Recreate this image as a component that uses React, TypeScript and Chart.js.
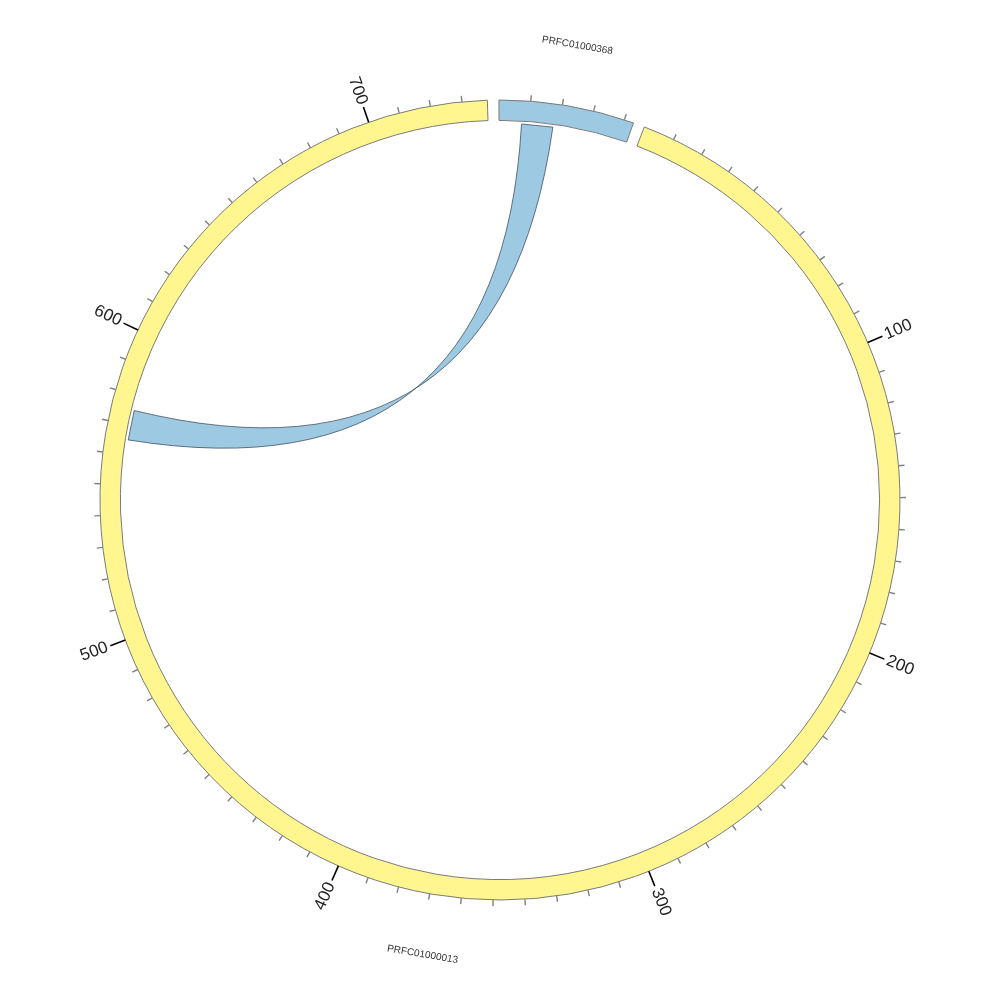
import React, { useEffect, useRef } from 'react';
import { Chart, registerables } from 'chart.js';

Chart.register(...registerables);

// ---- data ----
const sectorNames = ['PRFC01000368', 'PRFC01000013'];
const sectorLengths = [43, 738];
const sectorColors = ['#9dc9e2', '#fff68f'];
const gapLength = 3.64; // gap between sectors, in position units
const startRotation = -0.15; // degrees, where the first sector starts (0 = top)
const minorTickStep = 10;
const majorTickValues = [100, 200, 300, 400, 500, 600, 700];
const majorTickLabels = ['100', '200', '300', '400', '500', '600', '700'];
// link: [sector index, start position, end position]
const linkFrom = [0, 7.5, 18];
const linkTo = [1, 565, 575];
const linkColor = '#9dc9e2';

const circosPlugin = {
  id: 'circos',
  afterDatasetsDraw(chart: any) {
    const meta = chart.getDatasetMeta(0);
    const arcs = [meta.data[0], meta.data[2]].map((el: any) =>
      el.getProps(['x', 'y', 'startAngle', 'endAngle', 'innerRadius', 'outerRadius'], true)
    );
    const ctx: CanvasRenderingContext2D = chart.ctx;
    const cx = arcs[0].x;
    const cy = arcs[0].y;
    const R = arcs[0].outerRadius;
    const Rin = arcs[0].innerRadius;
    const angleAt = (s: number, p: number) => {
      const a = arcs[s];
      return a.startAngle + (p / sectorLengths[s]) * (a.endAngle - a.startAngle);
    };
    const pt = (ang: number, r: number) => [cx + r * Math.cos(ang), cy + r * Math.sin(ang)];

    ctx.save();
    // ---- link ribbon ----
    const rr = Rin - 3;
    const a1 = angleAt(linkFrom[0], linkFrom[1]);
    const a2 = angleAt(linkFrom[0], linkFrom[2]);
    const b1 = angleAt(linkTo[0], linkTo[1]);
    const b2 = angleAt(linkTo[0], linkTo[2]);
    const [x1, y1] = pt(a1, rr);
    const [x2, y2] = pt(a2, rr);
    const [x3, y3] = pt(b2, rr);
    const [x4, y4] = pt(b1, rr);
    ctx.beginPath();
    ctx.moveTo(x1, y1);
    ctx.lineTo(x2, y2);
    ctx.quadraticCurveTo(cx, cy, x3, y3);
    ctx.lineTo(x4, y4);
    ctx.quadraticCurveTo(cx, cy, x1, y1);
    ctx.closePath();
    ctx.fillStyle = linkColor;
    ctx.fill();
    ctx.lineWidth = 0.7;
    ctx.strokeStyle = '#2f3f4f';
    ctx.stroke();

    // ---- ticks ----
    for (let s = 0; s < sectorLengths.length; s++) {
      for (let p = minorTickStep; p < sectorLengths[s]; p += minorTickStep) {
        const isMajor = majorTickValues.includes(p);
        const ang = angleAt(s, p);
        const [ix, iy] = pt(ang, R);
        const [ox, oy] = pt(ang, R + (isMajor ? 16 : 6));
        ctx.beginPath();
        ctx.moveTo(ix, iy);
        ctx.lineTo(ox, oy);
        ctx.lineWidth = isMajor ? 1.6 : 1.4;
        ctx.strokeStyle = isMajor ? '#000000' : '#808080';
        ctx.stroke();
      }
    }
    // major labels (on the long sector)
    ctx.font = '17px "Liberation Sans", Arial, sans-serif';
    ctx.fillStyle = '#222222';
    ctx.textBaseline = 'middle';
    majorTickValues.forEach((v, i) => {
      const s = 1;
      const ang = angleAt(s, v);
      const [tx, ty] = pt(ang, R + 19);
      ctx.save();
      ctx.translate(tx, ty);
      if (Math.cos(ang) >= 0) {
        ctx.rotate(ang);
        ctx.textAlign = 'left';
      } else {
        ctx.rotate(ang + Math.PI);
        ctx.textAlign = 'right';
      }
      ctx.fillText(majorTickLabels[i], 0, 0);
      ctx.restore();
    });

    // sector names
    ctx.font = '10px "Liberation Sans", Arial, sans-serif';
    ctx.fillStyle = '#333333';
    ctx.textAlign = 'center';
    ctx.textBaseline = 'middle';
    sectorNames.forEach((name, s) => {
      const ang = angleAt(s, sectorLengths[s] / 2);
      const [tx, ty] = pt(ang, R + 61);
      ctx.save();
      ctx.translate(tx, ty);
      if (Math.sin(ang) <= 0) ctx.rotate(ang + Math.PI / 2);
      else ctx.rotate(ang - Math.PI / 2);
      ctx.fillText(name, 0, 0);
      ctx.restore();
    });
    ctx.restore();
  },
};

export default function App() {
  const ref = useRef<HTMLCanvasElement>(null);
  useEffect(() => {
    if (!ref.current) return;
    const data = [sectorLengths[0], gapLength, sectorLengths[1], gapLength];
    const chart = new Chart(ref.current, {
      type: 'doughnut',
      data: {
        labels: [sectorNames[0], 'gap1', sectorNames[1], 'gap2'],
        datasets: [
          {
            data,
            backgroundColor: [sectorColors[0], 'rgba(0,0,0,0)', sectorColors[1], 'rgba(0,0,0,0)'],
            borderColor: ['#7a7a7a', 'rgba(0,0,0,0)', '#7a7a7a', 'rgba(0,0,0,0)'],
            borderWidth: [1, 0, 1, 0],
            hoverOffset: 0,
          },
        ],
      },
      options: {
        responsive: false,
        animation: false,
        rotation: startRotation,
        circumference: 360,
        radius: 400,
        cutout: '94.9%',
        layout: { padding: 0 },
        events: [],
        plugins: {
          legend: { display: false },
          tooltip: { enabled: false },
          title: { display: false },
        },
      },
      plugins: [circosPlugin],
    });
    return () => chart.destroy();
  }, []);
  return (
    <div style={{ position: 'absolute', left: 0, top: 0, width: 1000, height: 1000, background: '#ffffff' }}>
      <canvas ref={ref} width={1000} height={1000} style={{ width: 1000, height: 1000, display: 'block' }} />
    </div>
  );
}
